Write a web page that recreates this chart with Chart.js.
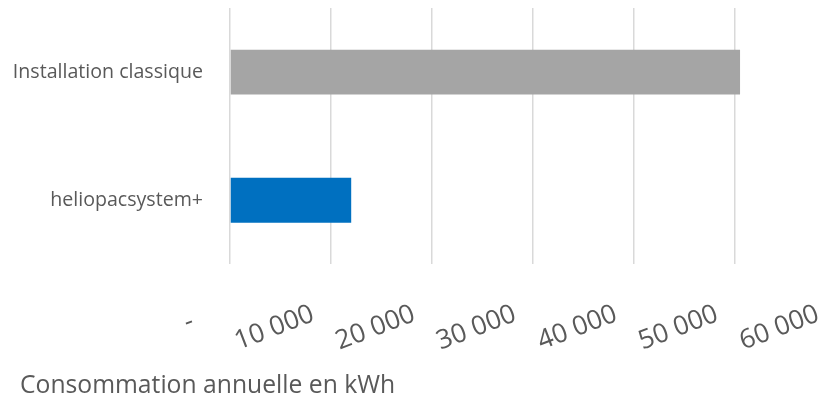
<!DOCTYPE html>
<html>
<head>
<meta charset="utf-8">
<script src="https://cdn.jsdelivr.net/npm/chart.js@4.4.1/dist/chart.umd.min.js"></script>
<style>
  html, body { margin: 0; padding: 0; background: #ffffff; overflow: hidden; width: 830px; height: 410px; }
  #wrap { width: 850px; height: 410px; position: relative; }
</style>
</head>
<body>
<div id="wrap"><canvas id="c"></canvas></div>
<script>
const categories = ['Installation classique', 'heliopacsystem+'];
const consumption = [50500, 12000];
const barColors = ['#a5a5a5', '#0070c0'];
const xTickLabels = ['-   ', '10 000', '20 000', '30 000', '40 000', '50 000', '60 000'];
const axisTitle = 'Consommation annuelle en kWh';

const textColor = '#595959';
const fontFamily = '"Open Sans", "DejaVu Sans", sans-serif';

function clearPadding(scale) {
  scale.paddingLeft = 0;
  scale.paddingRight = 0;
  scale.paddingTop = 0;
  scale.paddingBottom = 0;
}

new Chart(document.getElementById('c'), {
  type: 'bar',
  data: {
    labels: categories,
    datasets: [{
      data: consumption,
      backgroundColor: barColors,
      borderWidth: 0,
      barPercentage: 0.35,
      categoryPercentage: 1.0
    }]
  },
  options: {
    indexAxis: 'y',
    responsive: true,
    maintainAspectRatio: false,
    animation: false,
    layout: { autoPadding: false, padding: { left: 20, right: 14, top: 8, bottom: 0 } },
    plugins: {
      legend: { display: false },
      tooltip: { enabled: false },
      title: {
        display: true,
        text: axisTitle,
        position: 'bottom',
        align: 'start',
        color: textColor,
        font: { family: fontFamily, size: 24.7, weight: 'normal', lineHeight: 1.2 },
        padding: { top: 0, bottom: 9 }
      }
    },
    scales: {
      x: {
        min: 0,
        max: 60000,
        grid: { color: '#d9d9d9', lineWidth: 1.5, drawTicks: false },
        border: { display: false },
        ticks: {
          stepSize: 10000,
          autoSkip: false,
          minRotation: 21,
          maxRotation: 21,
          labelOffset: -18,
          padding: 34,
          color: textColor,
          font: { family: fontFamily, size: 26.5 },
          callback: function (value, index) { return xTickLabels[index]; }
        },
        afterFit: function (scale) { scale.height = 107; clearPadding(scale); }
      },
      y: {
        grid: { display: false, drawTicks: false },
        border: { display: false },
        ticks: {
          padding: 27,
          color: textColor,
          font: { family: fontFamily, size: 19.6 }
        },
        afterFit: function (scale) {
          scale.width = 210;
          clearPadding(scale);
          scale._computeLabelArea = function () { return undefined; };
        }
      }
    }
  }
});
</script>
</body>
</html>
